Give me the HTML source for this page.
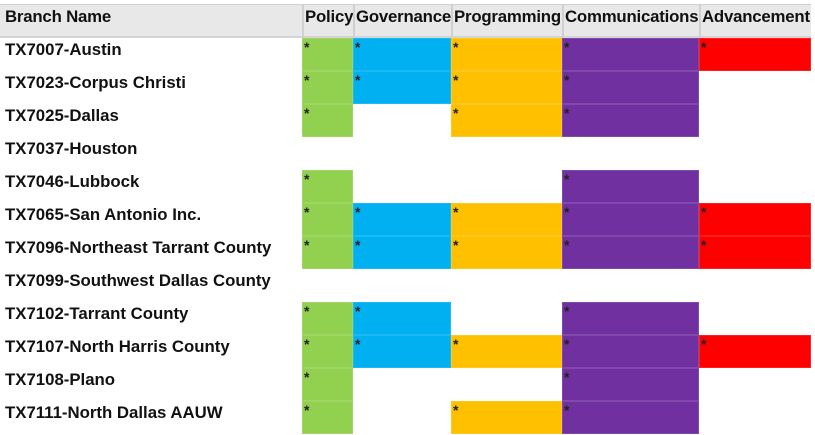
<!DOCTYPE html>
<html><head><meta charset="utf-8"><style>
body{margin:0;width:815px;height:435px;background:#fff;overflow:hidden;font-family:"Liberation Sans",Arial,sans-serif;position:relative}
.h{position:absolute;top:4px;height:34px;background:#e8e8e8;border-top:1px solid #d0d0d0;border-bottom:2px solid #d4d4d4;font-weight:bold;font-size:16.8px;line-height:24px;color:#111;box-sizing:border-box;padding-left:1px;white-space:nowrap;overflow:hidden;letter-spacing:-0.2px}
.hs{border-left:2px solid #d0d0d0}
.n{position:absolute;left:5px;font-weight:bold;font-size:16.8px;line-height:24px;color:#111;white-space:nowrap}
.c{position:absolute;height:33px;box-sizing:border-box;border:1px solid rgba(255,255,255,0.12);font-size:14px;font-weight:bold;line-height:16px;padding-left:1px;color:#222}
</style></head><body>
<div id="t"></div>
<script>
const columns=["Policy","Governance","Programming","Communications","Advancement"];
const branches=["TX7007-Austin","TX7023-Corpus Christi","TX7025-Dallas","TX7037-Houston","TX7046-Lubbock","TX7065-San Antonio Inc.","TX7096-Northeast Tarrant County","TX7099-Southwest Dallas County","TX7102-Tarrant County","TX7107-North Harris County","TX7108-Plano","TX7111-North Dallas AAUW"];
const policy=[1,1,1,0,1,1,1,0,1,1,1,1];
const governance=[1,1,0,0,0,1,1,0,1,1,0,0];
const programming=[1,1,1,0,0,1,1,0,0,1,0,1];
const communications=[1,1,1,0,1,1,1,0,1,1,1,1];
const advancement=[1,0,0,0,0,1,1,0,0,1,0,0];
const series=[policy,governance,programming,communications,advancement];
const colX=[302,353,451,562,699,811];
const colors=["#92d050","#00b0f0","#ffc000","#7030a0","#ff0000"];
const t=document.getElementById('t');
function rowY(i){return 38+i*33;}
let h=document.createElement('div');h.className='h';h.style.left='0px';h.style.width='302px';h.style.paddingLeft='5px';h.textContent='Branch Name';


t.appendChild(h);
columns.forEach((c,j)=>{const d=document.createElement('div');d.className='h hs';d.style.left=colX[j]+'px';d.style.width=(colX[j+1]-colX[j])+'px';d.textContent=c;


t.appendChild(d);});
branches.forEach((b,i)=>{const n=document.createElement('div');n.className='n';n.style.top=rowY(i)+'px';n.textContent=b;


t.appendChild(n);
series.forEach((s,j)=>{if(!s[i])return;const c=document.createElement('div');c.className='c';c.style.left=colX[j]+'px';c.style.width=(colX[j+1]-colX[j])+'px';c.style.top=rowY(i)+'px';c.style.background=colors[j];c.textContent='*';


t.appendChild(c);});});
</script>
</body></html>
